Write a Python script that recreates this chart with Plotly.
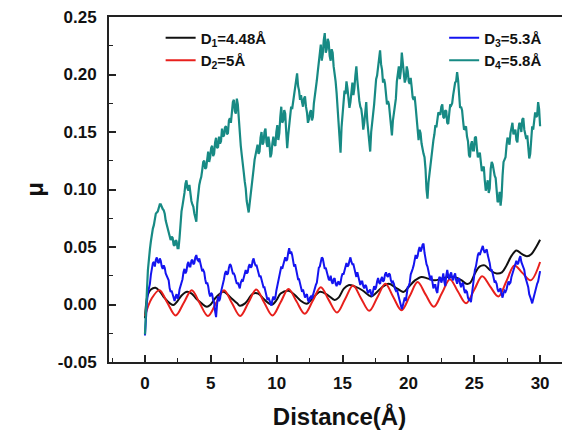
import numpy as np
import plotly.graph_objects as go

# ---------------- data ----------------
series_names = ["D<sub>1</sub>=4.48Å", "D<sub>2</sub>=5Å", "D<sub>3</sub>=5.3Å", "D<sub>4</sub>=5.8Å"]
series_colors = ["#111111", "#e8201c", "#1414f0", "#178a84"]

# D1 (smooth, black)
d1_x = [0, 0.2, 0.45, 0.8, 1.15, 1.5, 1.9, 2.15, 2.4, 2.8, 3.2, 3.55, 3.9, 4.3, 4.7, 4.95,
        5.3, 5.7, 5.95, 6.2, 6.6, 7.0, 7.2, 7.6, 8.0, 8.2, 8.6, 9.0, 9.4, 9.65, 10.0, 10.3,
        10.9, 11.4, 11.8, 12.3, 12.7, 13.3, 13.9, 14.4, 14.7, 15.1, 15.45, 16.0, 16.5, 17.0,
        17.2, 17.5, 18.0, 18.5, 19.0, 19.4, 19.65, 20.0, 20.5, 21.0, 21.5, 22.0, 22.5, 23.0,
        23.5, 24.05, 24.4, 24.7, 25.05, 25.4, 25.8, 26.2, 26.7, 27.1, 27.45, 27.85, 28.2,
        28.6, 29.0, 29.35, 29.7, 30.0]
d1_y = [-0.012, 0.008, 0.013, 0.0145, 0.011, 0.0055, 0.001, -0.0005, 0.002, 0.008, 0.011,
        0.0095, 0.005, 0.001, -0.002, -0.0005, 0.005, 0.0095, 0.011, 0.0095, 0.005, 0.001,
        -0.001, 0.001, 0.007, 0.0095, 0.0095, 0.005, 0.001, 0.0, 0.004, 0.0095, 0.012, 0.008,
        0.0035, 0.0007, 0.005, 0.011, 0.008, 0.004, 0.006, 0.0138, 0.0168, 0.0153, 0.0124,
        0.008, 0.007, 0.0095, 0.015, 0.018, 0.015, 0.012, 0.011, 0.015, 0.021, 0.024, 0.0225,
        0.021, 0.0225, 0.024, 0.024, 0.021, 0.018, 0.019, 0.027, 0.033, 0.034, 0.0298, 0.027,
        0.028, 0.034, 0.0427, 0.047, 0.044, 0.042, 0.044, 0.050, 0.0563]

# D2 (smooth, red)
d2_x = [0, 0.5, 1.1, 1.7, 2.33, 2.95, 3.55, 4.15, 4.78, 5.4, 6.0, 6.6, 7.23, 7.85, 8.45,
        9.05, 9.68, 10.3, 10.9, 11.5, 12.13, 12.75, 13.35, 13.95, 14.58, 15.2, 15.8, 16.4,
        17.03, 17.65, 18.25, 18.85, 19.48, 20.1, 20.7, 21.3, 21.93, 22.55, 23.15, 23.75,
        24.38, 25.0, 25.6, 26.2, 26.83, 27.45, 28.05, 28.65, 29.28, 30.0]
d2_y = [-0.010, 0.005, 0.0125, 0.0015, -0.0095, 0.0015, 0.0125, 0.0013, -0.010, 0.0013,
        0.0125, 0.0013, -0.010, 0.0015, 0.013, 0.0018, -0.0095, 0.002, 0.0135, 0.0028,
        -0.008, 0.0035, 0.015, 0.004, -0.007, 0.0048, 0.0165, 0.0055, -0.0055, 0.0063,
        0.018, 0.0065, -0.005, 0.0073, 0.0195, 0.0088, -0.002, 0.010, 0.022, 0.0115, 0.001,
        0.0128, 0.0245, 0.0158, 0.007, 0.0205, 0.034, 0.0275, 0.021, 0.037]

# noisy series: values at every 0.15 Å, plus the readings half-way between them
noisy_step = 0.15
d3_on = [-0.027, 0.002, 0.014, 0.026, 0.036, 0.033, 0.041, 0.036, 0.038, 0.031,
         0.032, 0.025, 0.021, 0.011, 0.008, 0.003, 0.009, 0.007, 0.016, 0.022,
         0.031, 0.029, 0.037, 0.033, 0.039, 0.036, 0.043, 0.038, 0.037, 0.029,
         0.028, 0.018, 0.016, 0.007, 0.009, 0.002, -0.011, 0.007, 0.005, 0.014,
         0.022, 0.029, 0.027, 0.035, 0.030, 0.027, 0.021, 0.019, 0.014, 0.021,
         0.023, 0.030, 0.028, 0.035, 0.033, 0.040, 0.034, 0.031, 0.024, 0.022,
         0.015, 0.012, 0.004, 0.003, -0.001, 0.007, 0.006, 0.016, 0.022, 0.033,
         0.035, 0.041, 0.039, 0.049, 0.046, 0.038, 0.035, 0.026, 0.022, 0.014,
         0.013, 0.006, 0.009, 0.002, 0.007, 0.008, 0.016, 0.019, 0.032, 0.037,
         0.040, 0.031, 0.029, 0.022, 0.025, 0.018, 0.023, 0.016, 0.020, 0.019,
         0.027, 0.029, 0.036, 0.034, 0.041, 0.035, 0.032, 0.024, 0.025, 0.017,
         0.020, 0.014, 0.016, 0.010, 0.013, 0.007, 0.016, 0.015, 0.023, 0.018,
         0.024, 0.021, 0.028, 0.024, 0.026, 0.019, 0.018, 0.012, 0.010, 0.002,
         -0.004, 0.004, 0.003, 0.015, 0.019, 0.030, 0.034, 0.043, 0.042, 0.050,
         0.048, 0.053, 0.039, 0.033, 0.023, 0.025, 0.014, 0.017, 0.010, 0.024,
         0.019, 0.027, 0.016, 0.030, 0.022, 0.028, 0.021, 0.027, 0.018, 0.023,
         0.015, 0.019, 0.010, 0.011, 0.004, 0.002, 0.018, 0.030, 0.039, 0.045,
         0.046, 0.051, 0.045, 0.048, 0.040, 0.030, 0.027, 0.019, 0.018, 0.011,
         0.014, 0.006, 0.012, 0.013, 0.020, 0.019, 0.027, 0.031, 0.038, 0.036,
         0.042, 0.035, 0.030, 0.021, 0.015, 0.005, 0.001, 0.007, 0.014, 0.020,
         0.029]
d3_mid = [-0.010, 0.010, 0.018, 0.033, 0.037, 0.039, 0.037, 0.040, 0.033, 0.034,
          0.027, 0.024, 0.014, 0.012, 0.004, 0.007, 0.005, 0.013, 0.018, 0.028,
          0.027, 0.035, 0.033, 0.038, 0.035, 0.041, 0.039, 0.040, 0.032, 0.030,
          0.022, 0.019, 0.010, 0.010, 0.004, -0.006, 0.000, 0.003, 0.011, 0.018,
          0.027, 0.026, 0.032, 0.034, 0.027, 0.025, 0.018, 0.017, 0.019, 0.020,
          0.028, 0.027, 0.033, 0.032, 0.038, 0.036, 0.034, 0.026, 0.025, 0.017,
          0.015, 0.007, 0.006, 0.000, 0.004, 0.004, 0.012, 0.018, 0.029, 0.031,
          0.039, 0.038, 0.045, 0.044, 0.043, 0.033, 0.031, 0.022, 0.019, 0.011,
          0.009, 0.008, 0.004, 0.006, 0.005, 0.013, 0.017, 0.027, 0.033, 0.041,
          0.034, 0.032, 0.024, 0.021, 0.020, 0.022, 0.018, 0.019, 0.017, 0.024,
          0.026, 0.033, 0.033, 0.038, 0.037, 0.035, 0.027, 0.028, 0.020, 0.020,
          0.016, 0.017, 0.012, 0.012, 0.009, 0.012, 0.013, 0.020, 0.019, 0.022,
          0.020, 0.026, 0.025, 0.027, 0.021, 0.020, 0.014, 0.013, 0.005, 0.000,
          -0.001, 0.006, 0.009, 0.016, 0.026, 0.031, 0.040, 0.040, 0.047, 0.046,
          0.052, 0.045, 0.035, 0.029, 0.021, 0.018, 0.017, 0.012, 0.018, 0.023,
          0.022, 0.020, 0.025, 0.025, 0.026, 0.023, 0.025, 0.021, 0.022, 0.018,
          0.018, 0.013, 0.012, 0.006, 0.005, 0.009, 0.025, 0.033, 0.043, 0.043,
          0.049, 0.047, 0.047, 0.043, 0.036, 0.030, 0.022, 0.020, 0.013, 0.013,
          0.009, 0.010, 0.011, 0.017, 0.018, 0.024, 0.028, 0.035, 0.035, 0.040,
          0.037, 0.033, 0.024, 0.019, 0.009, 0.004, 0.005, 0.010, 0.018, 0.024]
d4_on = [-0.026, 0.012, 0.043, 0.055, 0.066, 0.074, 0.080, 0.084, 0.087, 0.083,
         0.079, 0.069, 0.062, 0.056, 0.058, 0.051, 0.055, 0.049, 0.072, 0.086,
         0.097, 0.108, 0.099, 0.096, 0.087, 0.079, 0.072, 0.098, 0.108, 0.117,
         0.125, 0.119, 0.133, 0.128, 0.138, 0.131, 0.145, 0.137, 0.140, 0.153,
         0.147, 0.155, 0.149, 0.162, 0.168, 0.178, 0.166, 0.174, 0.146, 0.130,
         0.115, 0.101, 0.083, 0.088, 0.103, 0.118, 0.131, 0.139, 0.133, 0.150,
         0.141, 0.153, 0.137, 0.140, 0.131, 0.146, 0.138, 0.156, 0.149, 0.172,
         0.160, 0.166, 0.136, 0.158, 0.172, 0.176, 0.190, 0.201, 0.186, 0.182,
         0.172, 0.181, 0.167, 0.161, 0.169, 0.163, 0.181, 0.195, 0.211, 0.226,
         0.218, 0.236, 0.222, 0.228, 0.212, 0.219, 0.201, 0.184, 0.159, 0.132,
         0.168, 0.186, 0.194, 0.179, 0.176, 0.193, 0.188, 0.207, 0.184, 0.172,
         0.163, 0.158, 0.176, 0.151, 0.133, 0.162, 0.174, 0.196, 0.208, 0.221,
         0.204, 0.196, 0.184, 0.177, 0.165, 0.147, 0.168, 0.179, 0.203, 0.196,
         0.219, 0.201, 0.196, 0.203, 0.192, 0.189, 0.178, 0.172, 0.150, 0.152,
         0.140, 0.131, 0.118, 0.092, 0.114, 0.131, 0.143, 0.156, 0.160, 0.166,
         0.172, 0.163, 0.169, 0.158, 0.166, 0.173, 0.182, 0.193, 0.202, 0.180,
         0.172, 0.160, 0.153, 0.146, 0.130, 0.139, 0.134, 0.145, 0.136, 0.130,
         0.124, 0.118, 0.108, 0.103, 0.097, 0.118, 0.122, 0.112, 0.101, 0.090,
         0.086, 0.112, 0.126, 0.138, 0.143, 0.149, 0.158, 0.151, 0.143, 0.152,
         0.156, 0.161, 0.152, 0.144, 0.138, 0.131, 0.155, 0.160, 0.163, 0.176,
         0.155]
d4_mid = [0.000, 0.030, 0.048, 0.062, 0.069, 0.079, 0.081, 0.087, 0.084, 0.082,
          0.073, 0.067, 0.057, 0.059, 0.052, 0.056, 0.049, 0.058, 0.081, 0.090,
          0.105, 0.101, 0.104, 0.090, 0.085, 0.074, 0.088, 0.104, 0.111, 0.124,
          0.118, 0.129, 0.124, 0.136, 0.129, 0.141, 0.136, 0.146, 0.142, 0.146,
          0.154, 0.148, 0.160, 0.158, 0.176, 0.168, 0.179, 0.160, 0.138, 0.124,
          0.107, 0.090, 0.080, 0.097, 0.109, 0.126, 0.134, 0.131, 0.145, 0.139,
          0.150, 0.141, 0.146, 0.128, 0.140, 0.139, 0.150, 0.143, 0.163, 0.158,
          0.169, 0.150, 0.147, 0.166, 0.170, 0.185, 0.193, 0.190, 0.178, 0.176,
          0.179, 0.172, 0.158, 0.167, 0.160, 0.175, 0.186, 0.203, 0.217, 0.212,
          0.230, 0.219, 0.231, 0.216, 0.222, 0.207, 0.194, 0.170, 0.145, 0.154,
          0.176, 0.183, 0.188, 0.171, 0.188, 0.182, 0.199, 0.195, 0.177, 0.170,
          0.152, 0.168, 0.160, 0.145, 0.150, 0.166, 0.187, 0.199, 0.214, 0.209,
          0.193, 0.192, 0.174, 0.174, 0.158, 0.160, 0.170, 0.194, 0.207, 0.203,
          0.208, 0.193, 0.207, 0.194, 0.197, 0.180, 0.181, 0.159, 0.143, 0.149,
          0.133, 0.128, 0.100, 0.106, 0.119, 0.139, 0.148, 0.154, 0.167, 0.165,
          0.174, 0.162, 0.168, 0.157, 0.174, 0.175, 0.190, 0.194, 0.195, 0.171,
          0.169, 0.152, 0.155, 0.142, 0.128, 0.142, 0.134, 0.146, 0.128, 0.132,
          0.116, 0.120, 0.099, 0.108, 0.101, 0.124, 0.114, 0.110, 0.089, 0.098,
          0.094, 0.124, 0.128, 0.145, 0.139, 0.156, 0.148, 0.152, 0.141, 0.158,
          0.150, 0.162, 0.146, 0.147, 0.127, 0.145, 0.152, 0.167, 0.164, 0.170]


def interleave(on, mid):
    out = np.empty(len(on) + len(mid))
    out[0::2] = on
    out[1::2] = mid
    return out


d3_y = interleave(d3_on, d3_mid)
d4_y = interleave(d4_on, d4_mid)
noisy_x = np.round(np.arange(len(d4_y)) * noisy_step / 2, 3)

x_tick_vals = [0, 5, 10, 15, 20, 25, 30]
y_tick_vals = [-0.05, 0.0, 0.05, 0.10, 0.15, 0.20, 0.25]
y_tick_text = ["-0.05", "0.00", "0.05", "0.10", "0.15", "0.20", "0.25"]

# ---------------- figure ----------------
FONT = "Liberation Sans, Arial, sans-serif"
fig = go.Figure()
traces = [
    (d1_x, d1_y, "spline", "legend", 2),
    (d2_x, d2_y, "spline", "legend", 2),
    (noisy_x, d3_y, "linear", "legend2", 2),
    (noisy_x, d4_y, "linear", "legend2", 2.2),
]
for (xs, ys, shape, lg, w), name, col in zip(traces, series_names, series_colors):
    fig.add_trace(go.Scatter(
        x=xs, y=ys, mode="lines", name=name, legend=lg,
        line=dict(color=col, width=w, shape=shape),
    ))

axis_common = dict(
    showline=True, linecolor="#222222", linewidth=2,
    ticks="inside", ticklen=7, tickwidth=1.5, tickcolor="#222222",
    showgrid=False, zeroline=False, automargin=False, ticklabeloverflow="allow",
    tickfont=dict(family=FONT, size=17, color="#111111", weight="bold"),
)
fig.update_xaxes(
    **axis_common, range=[-2.73, 32.27], tickvals=x_tick_vals, mirror=True,
    ticklabelstandoff=5,
    minor=dict(ticks="inside", ticklen=4, tickwidth=1.2, tickcolor="#222222", dtick=2.5, tick0=0),
    title=dict(text="Distance(Å)", font=dict(family=FONT, size=24, color="#111111", weight="bold"),
               standoff=16),
)
fig.update_yaxes(
    **axis_common, range=[-0.05, 0.25], tickvals=y_tick_vals, ticktext=y_tick_text,
    ticklabelstandoff=7,
    minor=dict(ticks="inside", ticklen=4, tickwidth=1.2, tickcolor="#222222", dtick=0.025, tick0=0),
    title=dict(text="μ", font=dict(family=FONT, size=24, color="#111111", weight="bold"),
               standoff=7),
)

# the page body has an 8 px margin, so the figure is sized to fill the rest of the window
legend_font = dict(family=FONT, size=15, color="#111111", weight="bold")
fig.update_layout(
    width=562, height=426,
    margin=dict(l=101, r=0, t=9, b=72),
    paper_bgcolor="white", plot_bgcolor="white",
    legend=dict(x=0.112, y=0.987, xanchor="left", yanchor="top", font=legend_font,
                bgcolor="rgba(0,0,0,0)", tracegroupgap=0, itemwidth=30),
    legend2=dict(x=0.727, y=0.987, xanchor="left", yanchor="top", font=legend_font,
                 bgcolor="rgba(0,0,0,0)", tracegroupgap=0, itemwidth=30),
)

fig.write_html("out.html")
